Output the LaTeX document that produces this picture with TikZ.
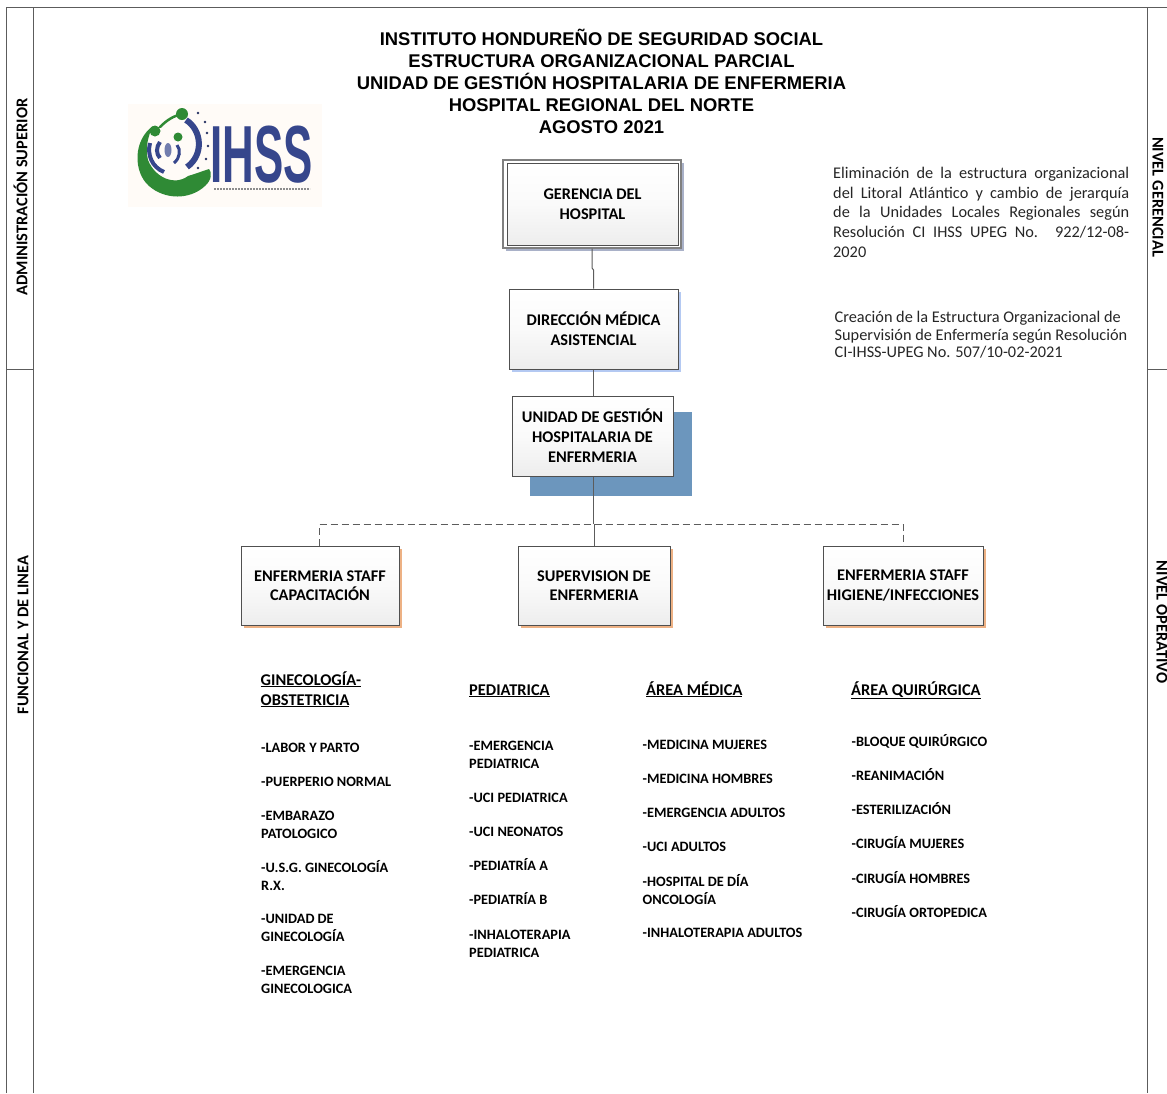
\documentclass[tikz,border=0pt]{standalone}
\usepackage{fontspec}
\setmainfont{Carlito}
\newfontfamily\arialf{Liberation Sans}
\usetikzlibrary{shadows,calc}
\definecolor{edge}{HTML}{505050}
\definecolor{lineg}{HTML}{5C5C5C}
\definecolor{shgrey}{HTML}{A9B1C8}
\definecolor{shblue}{HTML}{B4C9F2}
\definecolor{shsteel}{HTML}{6C96BD}
\definecolor{shorange}{HTML}{EDB184}
\definecolor{logog}{HTML}{2F8A35}
\definecolor{logob}{HTML}{36468C}
\newcommand{\ls}{\strut}
\newcommand{\jl}[1]{\makebox[296pt][s]{#1}}
\tikzset{
  x=1pt,y=-1pt,
  orgbox/.style={draw=edge,line width=1pt,top color=white,bottom color=black!7,middle color=black!2,
     inner sep=0pt,align=center,font=\bfseries\fontsize{16.3}{20}\selectfont,text=black},
  lowbox/.style={orgbox,font=\bfseries\fontsize{16.3}{19.3}\selectfont},
  titleline/.style={anchor=base,font=\arialf\bfseries\fontsize{18.4}{18.4}\selectfont,text=black,inner sep=0pt},
  sidelabel/.style={font=\bfseries\fontsize{16.4}{16.4}\selectfont,text=black,inner sep=0pt},
  listhead/.style={anchor=west,align=left,inner sep=0pt,font=\bfseries\fontsize{16.4}{20}\selectfont,text=black},
  listitem/.style={anchor=west,align=left,inner sep=0pt,yshift=-1pt,font=\bfseries\fontsize{14.3}{17.3}\selectfont,text=black},
  note/.style={anchor=north west,inner sep=0pt,font=\fontsize{16.3}{19.7}\selectfont,text=black!85},
  conn/.style={draw=lineg,line width=1pt},
  frameln/.style={draw=lineg,line width=1pt},
  dashconn/.style={draw=lineg,line width=0.9pt,dash pattern=on 7pt off 4pt}
}
\begin{document}
\begin{tikzpicture}
\useasboundingbox (0,0) rectangle (1167,1093);
\fill[white] (0,0) rectangle (1167,1093);
% frame
\draw[frameln] (6,1093) -- (6,7) -- (1167,7);
\draw[frameln] (33.5,7) -- (33.5,1093);
\draw[frameln] (1147,7) -- (1147,1093);
\draw[frameln] (6,369) -- (34,369);
\draw[frameln] (1147,369) -- (1167,369);
\node[sidelabel,rotate=90] (s1) at (20.5,197) {ADMINISTRACIÓN SUPERIOR};
\node[sidelabel,rotate=90] (s2) at (23,635) {FUNCIONAL Y DE LINEA};
\node[sidelabel,rotate=-90] (s3) at (1158,197) {NIVEL GERENCIAL};
\node[sidelabel,rotate=-90] (s4) at (1162,622) {NIVEL OPERATIVO};
% titles
\node[titleline] (t1) at (601.5,45.5) {INSTITUTO HONDUREÑO DE SEGURIDAD SOCIAL};
\node[titleline] (t2) at (601.5,67.5) {ESTRUCTURA ORGANIZACIONAL PARCIAL};
\node[titleline] (t3) at (601.5,89.5) {UNIDAD DE GESTIÓN HOSPITALARIA DE ENFERMERIA};
\node[titleline] (t4) at (601.5,111.5) {HOSPITAL REGIONAL DEL NORTE};
\node[titleline] (t5) at (601.5,133.5) {AGOSTO 2021};
% logo
\fill[orange!3!white] (128,104) rectangle (322,207);
\fill[logog] (153,126) .. controls (133,140) and (133,172) .. (149,186)
  .. controls (165,200) and (190,200) .. (205,186)
  .. controls (212,180) and (212,172) .. (209,169)
  .. controls (200,172) and (195,174) .. (188,176)
  .. controls (175,186) and (155,178) .. (148,160)
  .. controls (145,148) and (148,136) .. (153,126) -- cycle;
\fill[logog] (182,114) circle (6);
\fill[logog] (155,131) circle (5.5);
\fill[logog] (178,137) circle (4.5);
\draw[logog,line width=2.5pt,line cap=round] (160,127) .. controls (168,119) and (174,116) .. (182,114);
\draw[logob,line width=4pt] (150,143) .. controls (147,155) and (152,167) .. (164,172);
\draw[logob,line width=6pt] (186,120) .. controls (202,130) and (204,155) .. (187,167);
\draw[logob,line width=3pt] (177,145) .. controls (181,150) and (180,158) .. (174,163);
\draw[logob,line width=4pt] (160,142) .. controls (156,147) and (156,154) .. (160,158);
\fill[logob!70!white] (168,150) ellipse (3.5 and 7);
\foreach \px/\py in {198/113,205/122,207/133,208/146,206/159,198/168}{\fill[logob!70!black] (\px,\py) circle (1.3);}
\node[inner sep=0pt,text=logob,font=\arialf\bfseries\fontsize{75}{75}\selectfont,xscale=0.585,yscale=1.08] (logo) at (261.5,155) {IHSS};
\draw[black!45,line width=2pt,dash pattern=on 2pt off 1pt] (214,189) -- (310,189);
% boxes
\fill[shgrey] (506,163) rectangle (684,251);
\node[orgbox,minimum width=178,minimum height=88,draw=black!50,line width=1.3pt,top color=white,bottom color=white] (gero) at (592,204) {};
\node[orgbox,minimum width=171,minimum height=82] (ger) at (592.5,204) {GERENCIA DEL\\HOSPITAL};
\fill[shblue] (512,292) rectangle (681,372);
\node[orgbox,minimum width=169,minimum height=80] (dir) at (593.5,329) {DIRECCIÓN MÉDICA\\ASISTENCIAL};
\fill[shsteel] (530,412) rectangle (691.5,495.5);
\node[orgbox,minimum width=161,minimum height=80] (uni) at (592.5,436) {UNIDAD DE GESTIÓN\\HOSPITALARIA DE\\ENFERMERIA};
\fill[shorange] (244,549) rectangle (402,628);
\node[lowbox,minimum width=158,minimum height=79] (cap) at (320,585.5) {ENFERMERIA STAFF\\CAPACITACIÓN};
\fill[shorange] (521,549) rectangle (673,628);
\node[lowbox,minimum width=152,minimum height=79] (sup) at (594,585.5) {SUPERVISION DE\\ENFERMERIA};
\fill[shorange] (826,549) rectangle (986,628);
\node[lowbox,minimum width=160,minimum height=79] (hig) at (903,585.5) {ENFERMERIA STAFF\\HIGIENE/INFECCIONES};
% connector waypoints
\coordinate (j1) at (592,268);
\coordinate (j2) at (593.5,270);
\coordinate (br) at (593.3,524);
\coordinate (dl) at (319,524);
\coordinate (dr) at (903,524);
\coordinate (bs) at (594.8,524);
\draw[conn] (gero.south -| j1) -- (j1) -- (j2) -- (j2 |- dir.north);
\draw[conn] (dir.south) -- (uni.north -| dir.south);
\draw[conn] (uni.south -| br) -- (br);
\draw[dashconn] (cap.north -| dl) -- (dl) -- (dr) -- (hig.north -| dr);
\draw[conn] (bs) -- (sup.north -| bs);
% notes
\node[note,align=left] (n1) at (833,167) {\jl{Eliminación de la estructura organizacional}\\\jl{del Litoral Atlántico y cambio de jerarquía}\\\jl{de la Unidades Locales Regionales según}\\\jl{Resolución CI IHSS UPEG No. 922/12-08-}\\2020};
\node[note,align=left,font=\fontsize{16.3}{17.5}\selectfont] (n2) at (834.5,311) {Creación de la Estructura Organizacional de\\Supervisión de Enfermería según Resolución\\CI-IHSS-UPEG No. 507/10-02-2021};
% lists
\node[listhead] (h1) at (260.5,691) {\ls\underline{GINECOLOGÍA-}\\\ls\underline{OBSTETRICIA}};
\node[listhead] (h2) at (469,691) {\ls\underline{PEDIATRICA}};
\node[listhead] (h3) at (646,691) {\ls\underline{ÁREA MÉDICA}};
\node[listhead] (h4) at (851,691) {\ls\underline{ÁREA QUIRÚRGICA}};
\node[listitem] (a1) at (261,748) {\ls-LABOR Y PARTO};
\node[listitem] (a2) at (261,782) {\ls-PUERPERIO NORMAL};
\node[listitem] (a3) at (261,825) {\ls-EMBARAZO\\\ls PATOLOGICO};
\node[listitem] (a4) at (261,877) {\ls-U.S.G. GINECOLOGÍA\\\ls R.X.};
\node[listitem] (a5) at (261,928) {\ls-UNIDAD DE\\\ls GINECOLOGÍA};
\node[listitem] (a6) at (261,980) {\ls-EMERGENCIA\\\ls GINECOLOGICA};
\node[listitem] (b1) at (469,755) {\ls-EMERGENCIA\\\ls PEDIATRICA};
\node[listitem] (b2) at (469,798) {\ls-UCI PEDIATRICA};
\node[listitem] (b3) at (469,832) {\ls-UCI NEONATOS};
\node[listitem] (b4) at (469,866) {\ls-PEDIATRÍA A};
\node[listitem] (b5) at (469,900) {\ls-PEDIATRÍA B};
\node[listitem] (b6) at (469,944) {\ls-INHALOTERAPIA\\\ls PEDIATRICA};
\node[listitem] (c1) at (642.5,745) {\ls-MEDICINA MUJERES};
\node[listitem] (c2) at (642.5,779) {\ls-MEDICINA HOMBRES};
\node[listitem] (c3) at (642.5,813) {\ls-EMERGENCIA ADULTOS};
\node[listitem] (c4) at (642.5,847) {\ls-UCI ADULTOS};
\node[listitem] (c5) at (642.5,891) {\ls-HOSPITAL DE DÍA\\\ls ONCOLOGÍA};
\node[listitem] (c6) at (642.5,933) {\ls-INHALOTERAPIA ADULTOS};
\node[listitem] (d1) at (851.5,742) {\ls-BLOQUE QUIRÚRGICO};
\node[listitem] (d2) at (851.5,776) {\ls-REANIMACIÓN};
\node[listitem] (d3) at (851.5,810) {\ls-ESTERILIZACIÓN};
\node[listitem] (d4) at (851.5,844) {\ls-CIRUGÍA MUJERES};
\node[listitem] (d5) at (851.5,879) {\ls-CIRUGÍA HOMBRES};
\node[listitem] (d6) at (851.5,913) {\ls-CIRUGÍA ORTOPEDICA};
\end{tikzpicture}
\end{document}
